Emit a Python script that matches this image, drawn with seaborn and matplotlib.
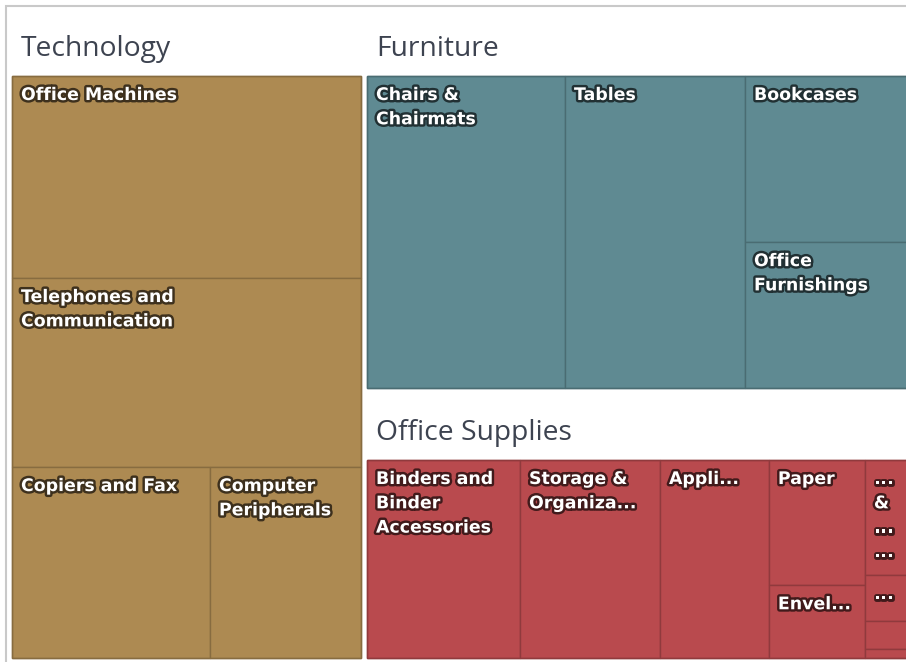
import matplotlib.pyplot as plt
import matplotlib.patheffects as pe
from matplotlib.patches import Rectangle
import seaborn as sns

sns.set_theme(style="white")

# sales by category / sub-category (thousands of $)
categories = ["Technology", "Furniture", "Office Supplies"]
category_colors = ["#AD8A52", "#5F8A92", "#B94A4E"]

tech_names = ["Office Machines", "Telephones and Communication",
              "Copiers and Fax", "Computer Peripherals"]
tech_sales = [2076, 1942, 1113, 849]
tech_labels = ["Office Machines", "Telephones and\nCommunication",
               "Copiers and Fax", "Computer\nPeripherals"]

furn_names = ["Chairs & Chairmats", "Tables", "Bookcases", "Office Furnishings"]
furn_sales = [1980, 1800, 889, 781]
furn_labels = ["Chairs &\nChairmats", "Tables", "Bookcases", "Office\nFurnishings"]

supp_names = ["Binders and Binder Accessories", "Storage & Organization",
              "Appliances", "Paper", "Envelopes", "Pens & Art Supplies",
              "Scissors, Rulers and Trimmers", "Labels", "Rubber Bands"]
supp_sales = [1076, 984, 766, 427, 248, 193, 76, 47, 15]
supp_labels = ["Binders and\nBinder\nAccessories", "Storage &\nOrganiza...",
               "Appli...", "Paper", "Envel...", "...\n&\n...\n...", "...", "", ""]

groups = [(tech_names, tech_sales, tech_labels),
          (furn_names, furn_sales, furn_labels),
          (supp_names, supp_sales, supp_labels)]


def worst(areas, side):
    t = sum(areas) / side
    return max(max(t / (a / t), (a / t) / t) for a in areas)


def strip_layout(values, x, y, w, h):
    # strips keep one direction (columns if the box is wide, rows if tall),
    # a strip grows while that does not make its cells less square
    total = float(sum(values))
    areas = [v * w * h / total for v in values]
    cols = w >= h
    side = h if cols else w
    rects = []
    pos = x if cols else y
    i, n = 0, len(areas)
    while i < n:
        row = [areas[i]]
        j = i + 1
        while j < n:
            if j == n - 1 or worst(row + [areas[j]], side) <= worst(row, side):
                row.append(areas[j])
                j += 1
            else:
                break
        t = sum(row) / side
        off = y if cols else x
        for a in row:
            l = a / t
            if cols:
                rects.append((pos, off, t, l))
            else:
                rects.append((off, pos, l, t))
            off += l
        pos += t
        i = j
    return rects


def shade(c, f):
    r, g, b = [int(c[k:k + 2], 16) for k in (1, 3, 5)]
    return (r * f / 255, g * f / 255, b * f / 255)


fig = plt.figure(figsize=(9.06, 6.62), dpi=100)
ax = fig.add_axes([0, 0, 1, 1])
ax.set_xlim(0, 906)
ax.set_ylim(662, 0)
ax.axis("off")

# light frame round the control
ax.plot([5.5, 5.5, 920], [670, 5.5, 5.5], color="#c9c9c9", lw=1.5,
        solid_joinstyle="miter")

group_totals = [sum(v) for _, v, _ in groups]
group_rects = strip_layout(group_totals, 9, 7, 906, 654)

pad = 3
header = 66
for cat, color, (gx, gy, gw, gh), (names, sales, labels) in zip(
        categories, category_colors, group_rects, groups):
    x0 = gx + pad
    y0 = gy + pad + header
    w0 = gw - 2 * pad
    h0 = gh - 2 * pad - header
    ax.text(x0 + 9, y0 - 27, cat, va="center", ha="left", fontsize=20.3,
            color="#3d4350", family="Open Sans")
    edge = shade(color, 0.78)
    glow = shade(color, 0.35)
    for (cx, cy, cw, ch), lab in zip(strip_layout(sales, x0, y0, w0, h0), labels):
        r = Rectangle((cx, cy), cw, ch, facecolor=color, edgecolor=edge, lw=1.0)
        ax.add_patch(r)
        if lab:
            t = ax.text(cx + 9, cy + 10, lab, va="top", ha="left", fontsize=12.5,
                        fontweight="bold", color="white", linespacing=1.45,
                        family="DejaVu Sans",
                        path_effects=[pe.withStroke(linewidth=3.5, foreground=glow)])
            t.set_clip_path(r)
    ax.add_patch(Rectangle((x0, y0), w0, h0, fill=False, edgecolor=edge, lw=1.0))

fig.savefig("out.png", dpi=100)
